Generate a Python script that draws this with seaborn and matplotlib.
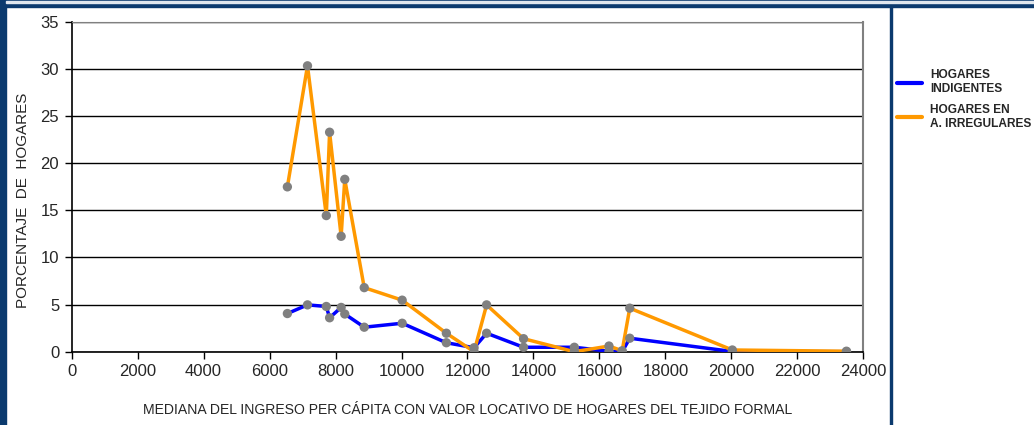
import numpy as np
import pandas as pd
import matplotlib
matplotlib.use("Agg")
import matplotlib.pyplot as plt
import seaborn as sns
from matplotlib.patches import Rectangle

sns.set_style("white")
plt.rcParams['font.family'] = ['Liberation Sans', 'DejaVu Sans']

# median income per capita (x) and share of households (%)
ingreso = [6540, 7150, 7720, 7820, 8170, 8280, 8870, 10020, 11360, 12200,
           12580, 13700, 15240, 16290, 16690, 16920, 20030, 23490]
indigentes = [4.05, 4.97, 4.8, 3.6, 4.7, 4.0, 2.6, 3.02, 0.95, 0.42,
              1.96, 0.47, 0.47, 0.05, 0.0, 1.43, 0.02, 0.0]
irregulares = [17.5, 30.35, 14.45, 23.3, 12.25, 18.3, 6.8, 5.47, 1.96, 0.0,
               4.97, 1.38, 0.0, 0.6, 0.1, 4.62, 0.18, 0.05]
series = ["HOGARES\nINDIGENTES", "HOGARES EN\nA. IRREGULARES"]
x_ticks = list(range(0, 24001, 2000))
y_ticks = list(range(0, 36, 5))

df = pd.DataFrame({
    "ingreso": ingreso * 2,
    "porcentaje": indigentes + irregulares,
    "serie": [series[0]] * len(ingreso) + [series[1]] * len(ingreso),
})

fig = plt.figure(figsize=(10.34, 4.25), dpi=100)
ax = fig.add_axes([0.0693, 0.1725, 0.7656, 0.7757])

sns.lineplot(data=df, x="ingreso", y="porcentaje", hue="serie", hue_order=series,
             palette=["#0000ff", "#ff9900"], linewidth=2.5, estimator=None,
             sort=True, ax=ax, zorder=3)
sns.scatterplot(data=df, x="ingreso", y="porcentaje", color="#808080", s=45,
                edgecolor="none", legend=False, ax=ax, zorder=4)

ax.set_xlim(0, 24000)
ax.set_ylim(0, 35)
ax.set_xticks(x_ticks)
ax.set_yticks(y_ticks)
ax.grid(axis="y", color="black", linewidth=1)
ax.tick_params(axis="both", direction="out", length=5, width=1, color="black",
               labelsize=12, pad=4, bottom=True, left=True)
for s in ["left", "bottom"]:
    ax.spines[s].set_color("black")
    ax.spines[s].set_linewidth(1.2)
ax.spines["right"].set_color("#808080")
ax.spines["right"].set_linewidth(1.5)
ax.spines["top"].set_color("#808080")
ax.set_xlabel("MEDIANA DEL INGRESO PER CÁPITA CON VALOR LOCATIVO DE HOGARES DEL TEJIDO FORMAL",
              fontsize=10.1, labelpad=17)
ax.set_ylabel("PORCENTAJE  DE  HOGARES", fontsize=11)
ax.yaxis.set_label_coords(-0.052, 0.46)

leg = ax.legend(loc="upper left", bbox_to_anchor=(0.857, 0.862),
                bbox_transform=fig.transFigure, frameon=False,
                prop={"weight": "bold", "size": 8.6}, handlelength=2.1,
                handletextpad=0.7, labelspacing=0.75)
for line in leg.get_lines():
    line.set_linewidth(3)

# page frame
navy = "#0b3a6e"
fig.patches.append(Rectangle((0, 0), 0.006, 1, transform=fig.transFigure,
                             color=navy, zorder=0))
fig.patches.append(Rectangle((0, 1 - 7 / 425), 1, 7 / 425, transform=fig.transFigure,
                             color=navy, zorder=0))
fig.patches.append(Rectangle((0.006, 1 - 3 / 425), 1, 1.5 / 425, transform=fig.transFigure,
                             color="#dfe6ee", zorder=1))
fig.patches.append(Rectangle((890 / 1034, 0), 2 / 1034, 1, transform=fig.transFigure,
                             color=navy, zorder=0))

fig.savefig("out.png", dpi=100)
